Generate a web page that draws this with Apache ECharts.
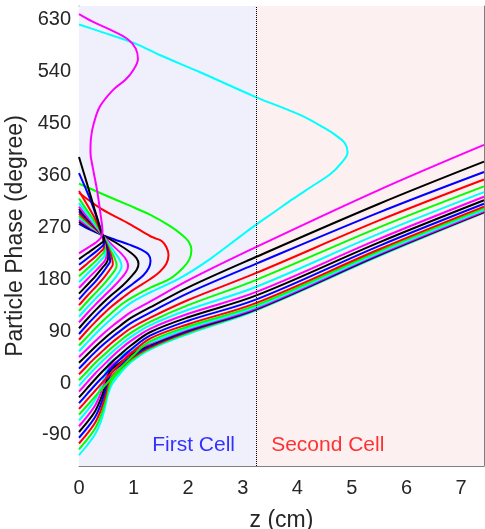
<!DOCTYPE html>
<html>
<head>
<meta charset="utf-8">
<script src="https://cdn.jsdelivr.net/npm/echarts@6/dist/echarts.min.js"></script>
<style>
  html, body { margin: 0; padding: 0; background: #ffffff; }
  #chart { width: 485px; height: 529px; }
</style>
</head>
<body>
<div id="chart"></div>
<script>
// Particle phase (degree) versus position z (cm), one [z, phase] list per particle.
// Particles p00..p17 cross both cells; p18..p35 turn back towards the cathode.
const p00 = [[0,-125],[0.15,-108],[0.3,-88],[0.4,-67],[0.47,-45],[0.53,-20],[0.6,-3],[0.75,16],[0.95,36],[1.3,58],[2,85],[3.25,126],[5.5,220],[7.42,295]];
const p01 = [[0,-115],[0.15,-98],[0.3,-78],[0.4,-57],[0.47,-36],[0.53,-12],[0.6,4],[0.75,21],[0.95,39],[1.3,60],[2,87],[3.25,127],[5.5,221],[7.42,296]];
const p02 = [[0,-105],[0.15,-88],[0.3,-68],[0.4,-47],[0.47,-26],[0.53,-3],[0.6,11],[0.75,25],[0.95,42],[1.3,62],[2,89],[3.25,128],[5.5,222],[7.42,296]];
const p03 = [[0,-95],[0.15,-78],[0.3,-58],[0.4,-37],[0.47,-16],[0.53,5],[0.6,18],[0.75,30],[0.95,45],[1.3,64],[2,90],[3.25,128],[5.5,222],[7.42,297]];
const p04 = [[0,-85],[0.15,-68],[0.3,-48],[0.4,-27],[0.47,-7],[0.53,14],[0.6,24],[0.75,35],[0.95,49],[1.3,66],[2,92],[3.25,129],[5.5,223],[7.42,297]];
const p05 = [[0,-75],[0.15,-58],[0.3,-38],[0.4,-17],[0.47,3],[0.53,23],[0.6,31],[0.75,41],[0.95,53],[1.3,68],[2,93],[3.25,130],[5.5,224],[7.42,298]];
const p06 = [[0,-65],[0.15,-48],[0.3,-28],[0.4,-7],[0.47,12],[0.53,31],[0.6,38],[0.75,47],[0.95,57],[1.3,70],[2,95],[3.25,132],[5.5,226],[7.42,300]];
const p07 = [[0,-55],[0.15,-39],[0.3,-23],[0.45,-7],[0.6,9],[0.75,25],[0.95,44],[1.3,72],[2,98],[3.25,135],[5.5,229],[7.42,303]];
const p08 = [[0,-45],[0.15,-29],[0.3,-13],[0.45,3],[0.6,18],[0.75,33],[0.95,51],[1.3,77],[2,102],[3.25,139],[5.5,232],[7.42,306]];
const p09 = [[0,-35],[0.15,-19],[0.3,-3],[0.45,12],[0.6,27],[0.75,41],[0.95,58],[1.3,82],[2,108],[3.25,145],[5.5,238],[7.42,311]];
const p10 = [[0,-25],[0.15,-9],[0.3,7],[0.45,22],[0.6,36],[0.75,49],[0.95,65],[1.3,88],[2,114],[3.25,152],[5.5,244],[7.42,317]];
const p11 = [[0,-15],[0.15,1],[0.3,17],[0.45,31],[0.6,45],[0.75,58],[0.95,73],[1.3,94],[2,120],[3.25,158],[5.5,250],[7.42,323]];
const p12 = [[0,-5],[0.15,11],[0.3,26],[0.45,40],[0.6,53],[0.75,65],[0.95,80],[1.3,100],[2,127],[3.25,167],[5.5,259],[7.42,331]];
const p13 = [[0,5],[0.15,20],[0.3,35],[0.45,48],[0.6,61],[0.75,73],[0.95,87],[1.3,106],[2,135],[3.25,179],[5.5,270],[7.42,341]];
const p14 = [[0,15],[0.15,30],[0.3,44],[0.45,57],[0.6,70],[0.75,81],[0.95,95],[1.3,113],[2,144],[3.25,191],[5.5,282],[7.42,353]];
const p15 = [[0,25],[0.15,40],[0.3,54],[0.45,67],[0.6,79],[0.75,90],[0.95,104],[1.3,122],[2,156],[3.25,207],[5.5,296],[7.42,366]];
const p16 = [[0,35],[0.15,49],[0.3,63],[0.45,76],[0.6,88],[0.75,99],[0.95,113],[1.3,131],[2,166],[3.25,219],[5.5,311],[7.42,384]];
const p17 = [[0,45],[0.15,59],[0.3,73],[0.45,86],[0.6,98],[0.75,109],[0.95,123],[1.3,141],[2,178],[3.25,236],[5.5,335],[7.42,413]];
const p18 = [[0,55],[0.15,70],[0.3,85],[0.45,99],[0.6,112],[0.75,124],[0.95,139],[1.3,157],[1.85,182],[2.4,215],[2.95,254],[3.22,273],[3.6,298],[3.9,318],[4.25,340],[4.6,362],[4.8,381],[4.92,400],[4.87,416],[4.7,430],[4.54,440],[4.05,465],[3.24,496],[2.22,539],[1.48,569],[1.0,590],[0.38,610],[0,622]];
const p19 = [[0,65],[0.15,80],[0.3,95],[0.45,109],[0.6,122],[0.8,138],[1.0,150],[1.3,165],[1.67,181],[1.9,199],[2.02,214],[2.06,231],[2.01,245],[1.9,256],[1.67,272],[1.3,292],[0.92,308],[0.45,327],[0,346]];
const p20 = [[0,75],[0.15,91],[0.3,106],[0.45,120],[0.6,133],[0.8,148],[1.0,162],[1.3,180],[1.48,193],[1.6,207],[1.64,222],[1.6,236],[1.52,246],[1.4,251],[1.3,255],[0.92,276],[0.41,302],[0,330]];
const p21 = [[0,85],[0.15,101],[0.3,116],[0.45,130],[0.6,143],[0.8,159],[1.0,173],[1.18,187],[1.28,200],[1.31,212],[1.27,223],[1.15,231],[0.92,240],[0.65,249],[0.42,257],[0.2,266],[0,276]];
const p22 = [[0,95],[0.15,111],[0.3,126],[0.45,140],[0.6,153],[0.8,169],[0.96,185],[1.06,197],[1.09,207],[1.05,217],[0.95,226],[0.7,242],[0.42,257],[0.2,268],[0,280]];
const p23 = [[0,105],[0.15,121],[0.3,136],[0.45,150],[0.6,164],[0.75,179],[0.86,192],[0.9,203],[0.87,213],[0.78,224],[0.6,240],[0.42,257],[0.2,270],[0,283]];
const p24 = [[0,115],[0.15,131],[0.3,146],[0.45,160],[0.6,175],[0.72,190],[0.78,202],[0.75,213],[0.66,226],[0.54,242],[0.42,257],[0.2,272],[0,287]];
const p25 = [[0,125],[0.15,141],[0.3,156],[0.45,171],[0.58,186],[0.66,196],[0.69,204],[0.66,215],[0.58,230],[0.5,245],[0.42,257],[0.2,274],[0,290]];
const p26 = [[0,135],[0.15,151],[0.3,166],[0.45,182],[0.56,196],[0.62,206],[0.6,218],[0.54,233],[0.47,248],[0.42,257],[0.2,276],[0,294]];
const p27 = [[0,145],[0.15,161],[0.3,176],[0.43,191],[0.52,203],[0.57,211],[0.56,221],[0.51,236],[0.45,250],[0.42,257],[0.2,279],[0,298]];
const p28 = [[0,155],[0.15,170],[0.3,185],[0.42,199],[0.5,208],[0.53,215],[0.52,226],[0.48,241],[0.42,257],[0.3,269],[0.15,285],[0,302]];
const p29 = [[0,165],[0.15,180],[0.3,194],[0.42,206],[0.48,213],[0.5,220],[0.49,231],[0.46,244],[0.42,257],[0.3,271],[0.15,288],[0,306]];
const p30 = [[0,175],[0.15,189],[0.3,203],[0.41,214],[0.46,219],[0.48,225],[0.47,236],[0.45,247],[0.42,257],[0.3,274],[0.15,293],[0,312]];
const p31 = [[0,185],[0.15,198],[0.3,211],[0.4,221],[0.45,226],[0.47,231],[0.46,241],[0.44,250],[0.42,257],[0.3,278],[0.15,299],[0,320]];
const p32 = [[0,195],[0.15,207],[0.3,219],[0.4,228],[0.45,233],[0.46,240],[0.44,250],[0.42,257],[0.3,284],[0.15,309],[0,333]];
const p33 = [[0,205],[0.15,216],[0.3,227],[0.4,235],[0.45,240],[0.46,246],[0.44,253],[0.42,258],[0.35,280],[0.24,310],[0.12,338],[0,364]];
const p34 = [[0,215],[0.15,225],[0.3,235],[0.4,242],[0.45,246],[0.46,251],[0.44,256],[0.42,260],[0.36,278],[0.28,303],[0.14,348],[0,392]];
const p35 = [[0,225],[0.15,234],[0.3,243],[0.4,252],[0.43,262],[0.4,289],[0.33,335],[0.25,375],[0.21,400],[0.22,425],[0.27,450],[0.385,480],[0.63,509],[0.85,526],[0.99,542],[1.08,562],[1.04,580],[0.9,596],[0.57,613],[0.25,627],[0,640]];

const particles = [p00,p01,p02,p03,p04,p05,p06,p07,p08,p09,p10,p11,p12,p13,p14,p15,p16,p17,
                   p18,p19,p20,p21,p22,p23,p24,p25,p26,p27,p28,p29,p30,p31,p32,p33,p34,p35];

// Line colours cycle through the particles in this order.
const lineColors = ['#00FFFF', '#00FF00', '#FF0000', '#0000FF', '#000000', '#FF00FF'];

// Axis extents and tick labels.
const zRange = [0, 7.42];
const phaseRange = [-144, 654];
const zTicks = [0, 1, 2, 3, 4, 5, 6, 7];
const phaseTicks = [-90, 0, 90, 180, 270, 360, 450, 540, 630];

// Cell boundaries along z and the cell captions.
const cellEdges = [0, 3.24, 7.42];
const cellNames = ['First Cell', 'Second Cell'];
const cellNameAnchors = [[1.34, -108], [3.52, -108]];

const FONT = '"Liberation Sans", Arial, Helvetica, sans-serif';
const AXIS_GREY = '#808080';

const chart = echarts.init(document.getElementById('chart'), null, { renderer: 'canvas' });

const particleSeries = particles.map((pts, i) => ({
  type: 'line',
  data: pts,
  showSymbol: false,
  smooth: 0.35,
  lineStyle: { width: 2, color: lineColors[i % lineColors.length] },
  itemStyle: { color: lineColors[i % lineColors.length] },
  silent: true,
  z: 3
}));

const option = {
  animation: false,
  backgroundColor: '#ffffff',
  textStyle: { fontFamily: FONT },
  grid: { left: 79, right: 1, top: 6, bottom: 63, containLabel: false, outerBoundsMode: 'none' },
  xAxis: [
    {
      type: 'value', position: 'bottom', min: zRange[0], max: zRange[1],
      name: 'z (cm)', nameLocation: 'middle', nameGap: 43,
      nameTextStyle: { fontSize: 23, color: '#262626', fontFamily: FONT },
      axisLine: { show: true, onZero: false, lineStyle: { color: AXIS_GREY, width: 1 } },
      axisTick: { show: true, inside: true, length: 5, customValues: zTicks, lineStyle: { color: AXIS_GREY } },
      axisLabel: { show: true, customValues: zTicks, fontSize: 20, color: '#262626', margin: 12, fontFamily: FONT },
      splitLine: { show: false }
    },
    {
      type: 'value', position: 'top', min: zRange[0], max: zRange[1],
      axisLine: { show: true, onZero: false, lineStyle: { color: AXIS_GREY, width: 1 } },
      axisTick: { show: true, inside: true, length: 5, customValues: zTicks, lineStyle: { color: AXIS_GREY } },
      axisLabel: { show: false },
      splitLine: { show: false }
    }
  ],
  yAxis: [
    {
      type: 'value', position: 'left', min: phaseRange[0], max: phaseRange[1],
      name: 'Particle Phase (degree)', nameLocation: 'middle', nameGap: 47, nameRotate: 90,
      nameTextStyle: { fontSize: 23, color: '#262626', fontFamily: FONT },
      axisLine: { show: true, onZero: false, lineStyle: { color: AXIS_GREY, width: 1 } },
      axisTick: { show: true, inside: true, length: 5, customValues: phaseTicks, lineStyle: { color: AXIS_GREY } },
      axisLabel: { show: true, customValues: phaseTicks, fontSize: 20, color: '#262626', margin: 8, fontFamily: FONT },
      splitLine: { show: false }
    },
    {
      type: 'value', position: 'right', min: phaseRange[0], max: phaseRange[1],
      axisLine: { show: true, onZero: false, lineStyle: { color: AXIS_GREY, width: 1 } },
      axisTick: { show: true, inside: true, length: 5, customValues: phaseTicks, lineStyle: { color: AXIS_GREY } },
      axisLabel: { show: false },
      splitLine: { show: false }
    }
  ],
  series: [
    // Shaded cells and the dotted boundary between them.
    {
      type: 'line',
      data: [],
      silent: true,
      z: 1,
      markArea: {
        silent: true,
        data: [
          [{ xAxis: cellEdges[0], itemStyle: { color: '#F0F0FC' } }, { xAxis: cellEdges[1] }],
          [{ xAxis: cellEdges[1], itemStyle: { color: '#FDF0F0' } }, { xAxis: cellEdges[2] }]
        ]
      },
      markLine: {
        silent: true,
        symbol: ['none', 'none'],
        label: { show: false },
        lineStyle: { type: 'dotted', color: '#000000', width: 1 },
        data: [{ xAxis: cellEdges[1] }]
      }
    },
    ...particleSeries,
    // Cell captions.
    {
      type: 'scatter',
      symbolSize: 0,
      silent: true,
      z: 5,
      data: cellNameAnchors.map((pos, i) => ({
        value: pos,
        label: {
          show: true,
          position: 'right',
          distance: 0,
          formatter: cellNames[i],
          fontSize: 21,
          fontFamily: FONT,
          color: i === 0 ? '#0000FF' : '#FF0000',
          verticalAlign: 'middle'
        }
      }))
    }
  ]
};

chart.setOption(option);
</script>
</body>
</html>
